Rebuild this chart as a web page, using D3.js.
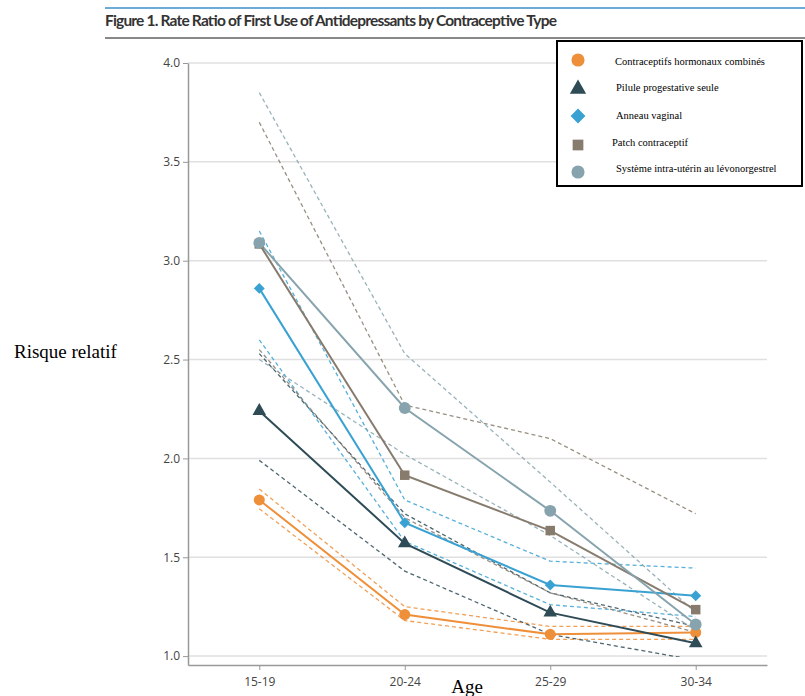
<!DOCTYPE html>
<html>
<head>
<meta charset="utf-8">
<script src="https://cdn.jsdelivr.net/npm/d3@7"></script>
<style>
  body { margin: 0; background: #fff; }
  svg { display: block; }
</style>
</head>
<body>
<script>
const width = 805;
const height = 696;

// age groups and tick values
const ages = ['15-19', '20-24', '25-29', '30-34'];
const yTicks = [1.0, 1.5, 2.0, 2.5, 3.0, 3.5, 4.0];

// rate ratios (estimate, lower CI, upper CI) per contraceptive type
const combinedEst = [1.79, 1.21, 1.11, 1.12];
const combinedLow = [1.745, 1.18, 1.085, 1.085];
const combinedHigh = [1.845, 1.25, 1.15, 1.15];

const progestinEst = [2.24, 1.57, 1.22, 1.065];
const progestinLow = [1.99, 1.43, 1.11, 0.98];
const progestinHigh = [2.53, 1.72, 1.32, 1.15];

const ringEst = [2.86, 1.675, 1.36, 1.305];
const ringLow = [2.6, 1.58, 1.26, 1.2];
const ringHigh = [3.15, 1.79, 1.48, 1.445];

const patchEst = [3.085, 1.915, 1.635, 1.235];
const patchLow = [2.55, 1.7, 1.32, 1.12];
const patchHigh = [3.7, 2.27, 2.1, 1.72];

const iudEst = [3.09, 2.255, 1.735, 1.16];
const iudLow = [2.5, 2.02, 1.61, 1.13];
const iudHigh = [3.85, 2.53, 1.88, 1.22];

const series = [
  { name: 'Contraceptifs hormonaux combinés', color: '#ee8f3a', symbol: d3.symbolCircle, rot: 0, size: 95, est: combinedEst, low: combinedLow, high: combinedHigh },
  { name: 'Pilule progestative seule', color: '#2e4b56', symbol: d3.symbolTriangle, rot: 0, size: 80, est: progestinEst, low: progestinLow, high: progestinHigh },
  { name: 'Anneau vaginal', color: '#3aa2d2', symbol: d3.symbolSquare, rot: 45, size: 60, est: ringEst, low: ringLow, high: ringHigh },
  { name: 'Patch contraceptif', color: '#877b6d', symbol: d3.symbolSquare, rot: 0, size: 90, est: patchEst, low: patchLow, high: patchHigh },
  { name: 'Système intra-utérin au lévonorgestrel', color: '#87a4ae', symbol: d3.symbolCircle, rot: 0, size: 110, est: iudEst, low: iudLow, high: iudHigh }
];

const svg = d3.select('body').append('svg')
  .attr('width', width)
  .attr('height', height);

// header rules and title
svg.append('line')
  .attr('x1', 105).attr('x2', 805).attr('y1', 8).attr('y2', 8)
  .style('stroke', '#3b8fc6').style('stroke-width', 1.5);
svg.append('text')
  .attr('x', 105).attr('y', 26)
  .attr('textLength', 452)
  .style('font-family', 'Lato, "Open Sans", sans-serif')
  .style('font-size', '15.5px')
  .style('font-weight', 'bold')
  .style('fill', '#333')
  .text('Figure 1. Rate Ratio of First Use of Antidepressants by Contraceptive Type');
svg.append('line')
  .attr('x1', 105).attr('x2', 805).attr('y1', 38).attr('y2', 38)
  .style('stroke', '#888').style('stroke-width', 2);

const x = d3.scalePoint().domain(ages).range([188, 767]).padding(0.49);
const y = d3.scaleLinear().domain([0.955, 4]).range([665, 63]);

// grid
svg.append('g')
  .selectAll('line')
  .data(yTicks)
  .enter().append('line')
    .attr('x1', 188).attr('x2', 767)
    .attr('y1', d => y(d)).attr('y2', d => y(d))
    .style('stroke', '#e0e0e0').style('stroke-width', 1.5);

const yAxis = svg.append('g')
  .attr('transform', 'translate(188,0)')
  .call(d3.axisLeft(y).tickValues(yTicks).tickFormat(d3.format('.1f')).tickSize(5).tickSizeOuter(0));
const xAxis = svg.append('g')
  .attr('transform', 'translate(0,665)')
  .call(d3.axisBottom(x).tickSize(5).tickSizeOuter(0));

[yAxis, xAxis].forEach(g => {
  g.select('.domain').style('stroke', '#999').style('stroke-width', 1.5);
  g.selectAll('.tick line').style('stroke', '#999');
  g.selectAll('.tick text')
    .style('font-family', '"Open Sans", sans-serif')
    .style('font-size', '12px')
    .style('fill', '#444');
});
xAxis.selectAll('.tick text').attr('dy', '1.05em');

// lines
svg.append('clipPath').attr('id', 'plot')
  .append('rect').attr('x', 188).attr('y', 55).attr('width', 579).attr('height', y(1) - 55 + 1);

const line = d3.line()
  .x((d, i) => x(ages[i]))
  .y(d => y(d));

const plot = svg.append('g').attr('clip-path', 'url(#plot)');

series.forEach(s => {
  [s.low, s.high].forEach(ci => {
    plot.append('path')
      .datum(ci)
      .attr('d', line)
      .style('fill', 'none')
      .style('stroke', s.color)
      .style('stroke-width', 1.3)
      .style('stroke-dasharray', '4,3')
      .style('opacity', 0.85);
  });
});

series.forEach(s => {
  plot.append('path')
    .datum(s.est)
    .attr('d', line)
    .style('fill', 'none')
    .style('stroke', s.color)
    .style('stroke-width', 2);
  svg.append('g')
    .selectAll('path')
    .data(s.est)
    .enter().append('path')
      .attr('transform', (d, i) => `translate(${x(ages[i])},${y(d)}) rotate(${s.rot})`)
      .attr('d', d3.symbol().type(s.symbol).size(s.size))
      .style('fill', s.color);
});

// axis titles
svg.append('text')
  .attr('x', 14).attr('y', 358)
  .style('font-family', '"Liberation Serif", "Times New Roman", serif')
  .style('font-size', '19px')
  .style('fill', '#000')
  .text('Risque relatif');
svg.append('text')
  .attr('x', 467).attr('y', 693)
  .attr('text-anchor', 'middle')
  .style('font-family', '"Liberation Serif", "Times New Roman", serif')
  .style('font-size', '19px')
  .style('fill', '#000')
  .text('Age');

// legend
const legend = svg.append('g');
legend.append('rect')
  .attr('x', 557).attr('y', 41).attr('width', 245).attr('height', 145)
  .style('fill', '#fff').style('stroke', '#000').style('stroke-width', 2);

const legendY = [60, 89, 116, 145, 172];
const legendTextY = [65, 91, 119, 146, 172];
const legendTextX = [615, 616, 616, 612, 616];
series.forEach((s, i) => {
  legend.append('path')
    .attr('transform', `translate(578,${legendY[i]}) rotate(${s.rot})`)
    .attr('d', d3.symbol().type(s.symbol).size(i === 0 || i === 4 ? 135 : i === 2 ? 110 : 115))
    .style('fill', s.color);
  legend.append('text')
    .attr('x', legendTextX[i]).attr('y', legendTextY[i])
    .style('font-family', '"Liberation Serif", "Times New Roman", serif')
    .style('font-size', '10.5px')
    .style('fill', '#000')
    .text(s.name);
});
</script>
</body>
</html>
